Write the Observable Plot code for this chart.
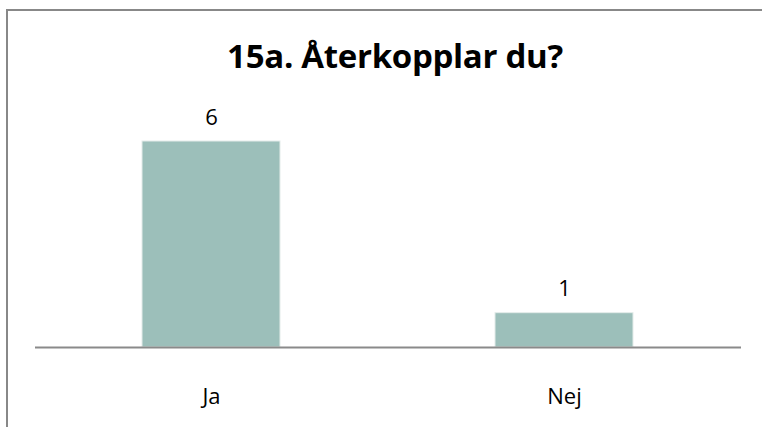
<!DOCTYPE html>
<html><head><meta charset="utf-8">
<script src="https://cdn.jsdelivr.net/npm/d3@7"></script>
<script src="https://cdn.jsdelivr.net/npm/@observablehq/plot@0.6"></script>
<style>
html,body{margin:0;padding:0;background:#fff;overflow:hidden;width:762px;height:427px;}
#frame{position:absolute;left:6px;top:9px;width:800px;height:500px;border:2px solid #888;box-sizing:border-box;}
#title{position:absolute;left:14px;top:36px;width:762px;text-align:center;font-family:"Open Sans",sans-serif;font-weight:bold;font-size:33px;letter-spacing:-0.3px;color:#000;line-height:40px;}
#chart{position:absolute;left:0;top:90px;}
</style></head>
<body>
<div id="frame"></div>
<div id="title">15a. Återkopplar du?</div>
<div id="chart"></div>
<script>
const categories = ["Ja", "Nej"];
const values = [6, 1];
const data = categories.map((c, i) => ({cat: c, val: values[i]}));

const plot = Plot.plot({
  width: 762,
  height: 337,
  marginLeft: 35,
  marginRight: 21,
  marginTop: 51,
  marginBottom: 80,
  style: {fontFamily: "Open Sans, sans-serif", background: "transparent", color: "#000"},
  x: {domain: categories, paddingInner: 0.609, paddingOuter: 0.3045, label: null},
  y: {domain: [0, 6], axis: null},
  marks: [
    Plot.barY(data, {x: "cat", y: "val", fill: "#9cbfba", stroke: "#e4ecea", strokeWidth: 1}),
    Plot.text(data, {x: "cat", y: "val", text: d => String(d.val), dy: -24, fontSize: 22, fill: "#000"}),
    Plot.axisX({tickSize: 0, tickPadding: 41, fontSize: 22, label: null, fill: "#000"}),
    Plot.ruleY([0], {stroke: "#8a8a8a", strokeWidth: 2})
  ]
});
document.getElementById("chart").appendChild(plot);
</script>
</body></html>
